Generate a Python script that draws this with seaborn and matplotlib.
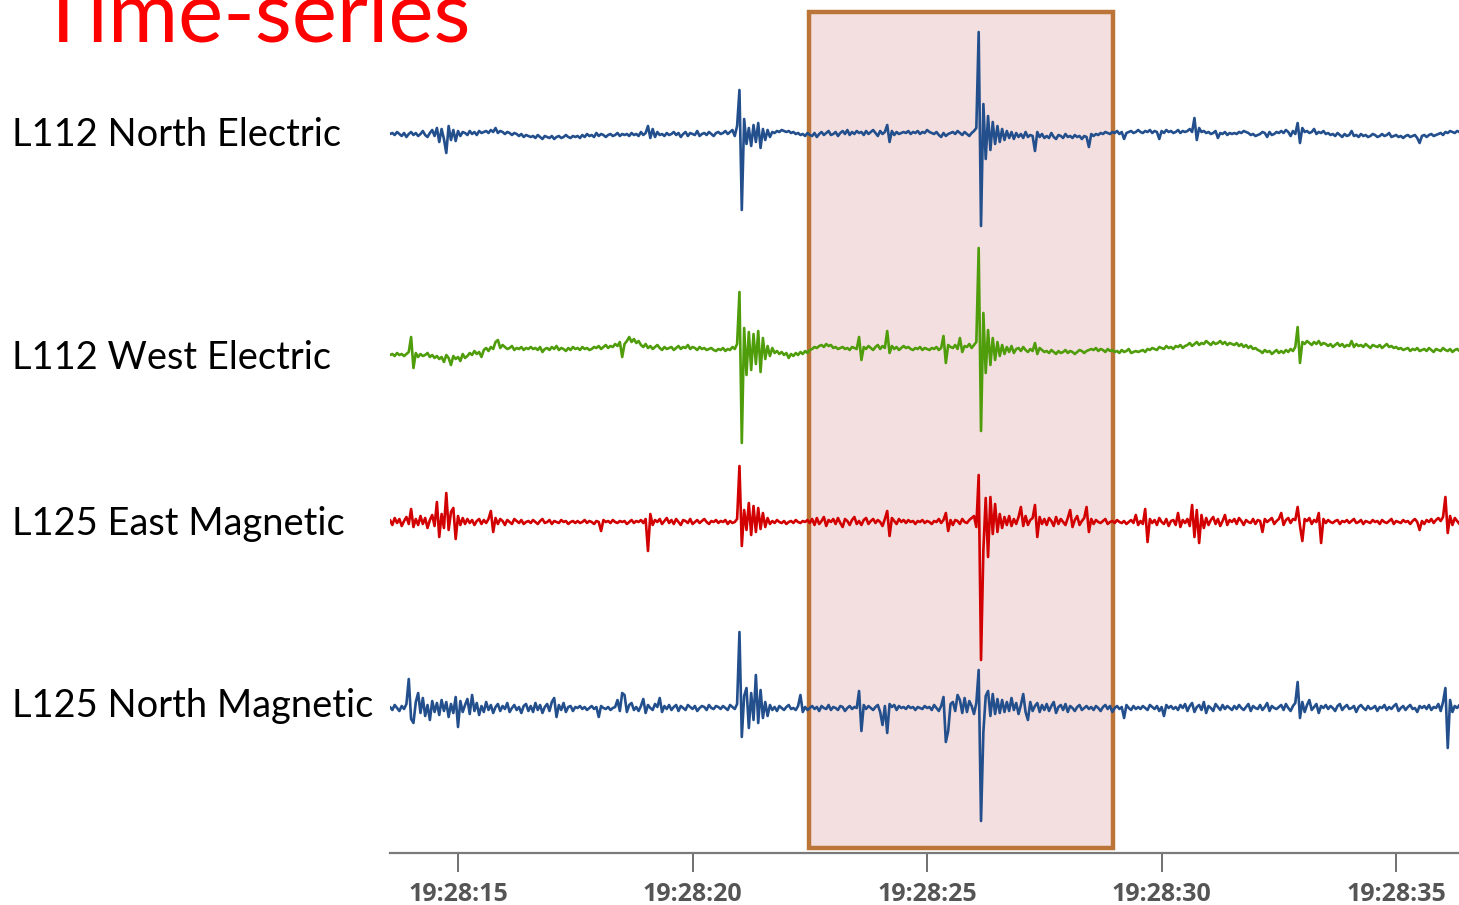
import numpy as np
import matplotlib
matplotlib.use("Agg")
import matplotlib.pyplot as plt
from matplotlib.patches import Rectangle
import seaborn as sns

# Sampling: seconds after 19:28:00, one sample every 50 ms
sample_start = 13.55
sample_step = 0.05

# Channel amplitudes (display units, positive = up)
l112_north_electric = [
    0, 1, -1, 2, 0, -2, 1, -3, 0, 2, -1, 1, -2, 0, 3, -1, -3, 1, 4, -2,
    6, -8, 5, -5, -19, 8, -6, 4, -7, 3, -2, 2, 1, -1, 3, 0, 2, -1, 3, 1,
    2, 3, 1, 4, 2, 6, 1, 3, 2, 0, 2, 1, -1, 1, 0, -2, 0, -3, -1, -2,
    -3, -2, -4, -1, -3, -5, -2, -3, -4, -2, -5, -3, -2, -4, -3, -1, -3, -4, -2, -3,
    -2, -4, -1, -3, 0, -2, -1, -3, 1, -2, 0, -1, -3, -1, 0, -2, -1, 1, -2, 0,
    -1, 0, -2, 1, -1, 0, -2, 2, -1, 1, 8, -4, 5, -3, 2, -1, 0, -2, 1, -1,
    0, 2, -1, 1, -3, 0, 2, -2, 1, 0, -1, 3, -2, 0, 1, -1, 2, 0, -2, 1,
    2, 0, 1, 3, 0, 2, 4, -2, 8, 44, -76, 15, -10, 6, -12, 9, -8, 11, -14, 5,
    -6, 4, -3, 2, 1, 3, 2, 4, 3, 2, 3, 1, 2, 0, 1, -1, 0, -2, 1, -1,
    -2, 1, -3, 0, 2, -1, 1, 3, -1, 0, 2, -2, 1, 3, 0, 4, -1, 2, 0, 3,
    1, 2, -1, 3, 0, 2, 4, 1, -2, 3, 0, 2, 9, -8, 3, -1, 2, 0, 1, 2,
    1, 3, 0, 2, 1, 3, 0, 2, 1, 4, 2, 1, 0, 2, -1, -3, 1, -2, 0, 1,
    2, 0, 3, 1, -1, 2, 0, -2, 1, 3, 6, 102, -92, 30, -25, 18, -16, 12, -10, 8,
    -8, 5, -6, 3, -4, 2, -5, 1, -3, 0, -4, 2, -3, -1, -2, -17, 2, -3, 0, -4,
    -2, -4, 1, -3, -5, -1, -2, -4, 0, -3, -2, -4, -1, -3, -2, -5, -2, -3, -13, 0,
    -2, 0, -1, 1, 0, 2, 1, 0, 2, 1, 3, 0, 2, -5, 1, 2, 3, 1, 2, 4,
    2, 1, 3, 2, 4, 1, 3, 2, -5, 3, 1, 4, 2, 3, 1, 2, 4, 1, 3, 2,
    3, 5, 2, 16, -6, 6, 2, 3, 1, 2, 0, 1, 3, -4, 1, 0, 2, -1, 1, 0,
    1, 0, 2, 1, 3, 2, 1, -1, 0, -2, -1, 0, 2, 1, -3, 2, -1, 0, 2, 1,
    3, 1, 4, 2, -2, 3, 0, 11, -9, 6, 2, 3, 1, 2, 5, 0, 2, 1, 3, 0,
    1, -1, 0, -2, 1, -1, -3, 0, -2, -1, 3, -2, -1, -3, 0, -2, -1, -3, -2, 0,
    -1, -3, -2, 0, -2, -1, 1, -3, -2, -1, -3, -2, -4, -2, -1, -3, -2, -1, -4, -9,
    -2, -1, -3, -1, 0, -2, -1, 0, 1, -1, 2, 1, 3, 2, 1, 3, 2, 1, 2, 3,
]

l112_west_electric = [
    -5, -4, -6, -3, -5, -4, -6, -4, -2, 13, -18, -3, -7, -4, -6, -5, -3, -7, -5, -8,
    -6, -9, -7, -12, -5, -8, -15, -6, -9, -7, -11, -4, -8, -6, -3, -5, -1, -4, -2, -7,
    0, 2, -1, 3, 1, 8, 10, 2, 5, 3, 1, 2, 4, 0, 2, 1, 3, 0, 2, 1,
    3, 1, 2, 0, 3, -2, 1, 2, 0, 3, 1, 4, 0, 2, 1, -1, 2, 0, 3, 1,
    2, 0, 3, 1, 2, 0, 1, 3, 2, 4, 1, 3, 5, 2, 4, 3, 6, 4, 8, -7,
    6, 9, 13, 8, 11, 7, 9, 5, 3, 6, 2, 4, 1, 3, 5, 2, 0, 3, 1, 2,
    3, 0, 2, 4, 1, 3, 2, 5, 1, 3, 2, 0, 3, 1, 2, 0, 1, 2, 0, -1,
    1, 0, 2, -1, 1, 0, 3, 1, 6, 58, -93, 22, -25, 18, -20, 16, -14, 19, -22, 12,
    -9, 4, -6, 2, -3, -1, -4, -2, -5, -3, -8, -4, -6, -3, -5, -2, -4, -1, -3, 0,
    1, 3, 2, 4, 5, 3, 6, 4, 5, 2, 3, 1, 2, 3, 1, 2, 0, 3, 2, 1,
    13, -10, 3, 1, 4, 2, 0, 3, 5, 1, 4, 2, 19, -3, 4, 1, 3, 0, 2, 4,
    2, 3, 1, 0, 2, 1, 3, 0, 2, 1, 0, 2, 1, 3, 0, 2, 14, -13, 5, 3,
    2, 5, 1, 12, -2, 4, 3, 6, 2, 5, 8, 102, -81, 37, -23, 20, -15, 12, -10, 8,
    -6, 5, -4, 3, -2, 4, -3, 1, 2, -1, 3, 0, -2, 1, -1, 7, -4, 2, 0, -2,
    -1, -3, 0, -2, -4, -1, -3, -2, 0, -3, -1, -2, -4, -2, 0, -1, -3, -1, 0, 1,
    0, 2, -1, 1, 0, -2, 1, -1, 0, -2, -1, -3, 0, -2, -1, 1, -3, -2, -1, -2,
    -1, 0, -2, 1, 0, 2, 1, 0, 3, 2, 1, 4, 2, 3, 1, 4, 3, 5, 2, 4,
    5, 7, 4, 6, 8, 5, 7, 6, 9, 7, 5, 8, 6, 7, 9, 6, 8, 5, 7, 6,
    5, 7, 4, 6, 3, 5, 2, 4, 1, 2, 0, -1, -3, 0, -2, -1, -4, -2, 0, -3,
    -1, -3, 0, -2, 1, -1, 3, 23, -13, 8, 6, 9, 7, 5, 8, 6, 9, 5, 7, 6,
    4, 6, 3, 5, 7, 4, 6, 3, 5, 4, 9, 3, 6, 4, 5, 3, 6, 4, 2, 5,
    4, 3, 5, 2, 4, 6, 3, 4, 2, 3, 1, 2, 0, 1, 2, -1, 1, 0, 2, -1,
    0, 1, -1, 2, 0, -2, 1, 0, -1, 2, 0, -1, 1, -2, 0, 1, -1, 0, -2, 0,
]

l125_east_magnetic = [
    2, -3, 4, -1, 3, -4, 1, 5, -2, 13, -5, 3, -3, 6, -2, 4, -6, 2, 7, -4,
    20, -15, 8, -6, 29, -8, 10, 14, -17, 6, -3, 4, -2, 3, -1, 2, -3, 1, 3, -2,
    2, -1, 3, 11, -10, 4, -2, 3, 1, -3, 2, 0, -2, 3, 1, -1, 2, -2, 0, 1,
    -1, 2, 0, -2, 1, 3, -1, 0, 2, -2, 1, 0, -1, 2, 0, 1, -2, 0, 1, -1,
    1, -1, 0, 2, -1, 1, 0, -2, 1, 0, -9, 2, 0, 1, -1, 2, 0, -1, 1, 0,
    1, -2, 0, 2, -1, 1, 0, 2, -1, 3, -29, 8, -3, 2, 0, 3, -2, 1, 4, -1,
    2, -2, 3, 0, -3, 2, 1, -1, 3, -2, 0, 2, -1, 1, 3, 0, -2, 1, 0, 2,
    -1, 1, 0, 2, -2, 1, -1, 0, 3, 56, -24, 12, -8, 19, -13, 16, -10, 14, -7, 9,
    -5, 4, -2, 1, -1, 2, 0, -1, 1, -2, 0, 1, -1, 2, 0, -1, 1, 0, 2, -1,
    3, -3, 4, -2, 1, 5, -4, 2, 0, 3, -2, 4, -1, -5, 3, 1, -3, 2, 5, -2,
    1, -3, 2, 4, -2, 1, 3, -1, 2, 0, -4, 3, 11, -14, 4, 1, -2, 3, 0, 2,
    -1, 2, 0, 1, -2, 1, 0, 2, -1, 1, 0, -2, 1, 0, 3, -1, 2, 9, -9, 2,
    -3, 2, 1, -2, 3, 0, -1, 2, 4, 6, -5, 47, -138, -28, 24, -35, 25, -12, 18, -10,
    8, -6, 5, -3, 6, -4, 3, -2, 5, 15, -4, 6, -3, 2, 4, 17, -15, 5, -2, 3,
    -3, 4, 1, -4, 5, -2, 3, 0, -3, 4, 12, -5, 2, 6, -3, 1, 4, 15, -10, 3,
    -2, 2, 0, -1, 1, 3, -2, 0, 1, -1, 2, 0, -1, 1, -2, 0, 2, -1, 7, -3,
    1, -2, 13, -20, 3, -1, 2, -3, 4, 0, -2, 3, -4, 1, 2, -3, 9, -5, 2, -1,
    3, -4, 17, -15, 12, -21, 7, -6, 4, -3, 2, 5, -2, 3, -4, 1, 7, -3, 2, 0,
    3, -2, 4, 1, -3, 2, 0, -1, 3, -2, 2, 1, -10, 3, 0, 2, 4, -2, 1, 3,
    9, -3, 2, 4, -1, 3, 2, 15, -4, -19, 3, 1, 4, -2, 2, 0, 9, -21, 3, -1,
    2, 0, -1, 1, 2, -2, 1, 0, 2, -1, 1, 3, -1, 0, 2, -2, 1, 0, -1, 2,
    0, 1, -2, 2, 0, -1, 1, 3, -2, 1, 0, -1, 2, 0, 1, -2, 1, 3, 0, -8,
    1, -2, 2, 0, 3, -1, 2, 4, 1, 5, 25, -11, 6, -3, 4, 1, -2, 3, 0, 2,
]

l125_north_magnetic = [
    1, -2, 3, 0, -3, 2, -1, 4, 29, -11, -15, 6, 15, -5, 10, -8, 3, -12, 7, -4,
    5, -7, 8, -3, 6, -9, 4, -5, 11, -19, 7, -4, 3, 9, -6, 13, -3, 5, -7, 2,
    -4, 6, -2, 3, -5, 1, 4, -3, 2, -1, 5, -4, 0, 3, -2, 1, -5, 2, 4, -3,
    2, -4, 5, -2, 3, -5, 1, 4, -3, 6, 10, -9, 3, -2, 5, -4, 1, 2, -3, 1,
    0, 2, -1, 1, -2, 0, 2, -1, 1, -9, 2, 0, -1, 1, -2, 0, 1, 8, -3, 15,
    13, -4, 3, 5, -2, 1, -3, 2, 9, -5, 3, 0, -2, 4, 1, 10, -4, 2, -1, 3,
    -2, 1, 3, -3, 2, 0, -2, 3, 1, -1, 2, -3, 0, 2, 1, -2, 3, 0, -1, 2,
    1, -1, 2, 0, -2, 3, 1, -1, 4, 76, -29, 12, 20, -20, 15, -12, 33, -15, 18, -10,
    6, -8, 3, -2, 1, -3, 2, 0, -2, 1, 3, -1, 0, -2, 2, 13, -4, 1, -2, 0,
    2, -1, 1, -3, 2, 0, -1, 3, -2, 1, 0, -2, 2, 1, -3, 0, 2, -1, 1, 0,
    17, -23, 3, -1, 2, 0, -2, 1, 3, -4, -17, 2, -25, 4, 1, 3, -2, 2, 0, 1,
    -1, 2, 0, 1, -2, 1, 0, -1, 2, 0, 1, -2, 3, 0, -3, 2, 11, -34, -23, 4,
    6, -3, 13, 8, -5, 10, -4, 7, 2, -6, 5, 38, -113, -24, 12, 17, -8, 14, -6, 9,
    -5, 8, -4, 6, -3, 10, -2, 5, -6, 3, 14, -4, -12, 6, -3, 2, 5, -4, 3, -2,
    4, -3, 2, 6, -5, 1, 3, -2, 4, -4, 2, 0, -3, 1, 3, -2, 0, 2, -1, 1,
    -2, 2, 0, -3, 1, 3, -1, 2, -4, 0, 2, -1, 1, -10, 3, 0, -2, 2, -1, 1,
    -1, 2, 0, -2, 3, 1, -1, 2, -3, 1, -8, 3, 0, 2, -1, 1, -2, 3, 0, 4,
    -3, 2, 5, -4, 1, 3, -2, 6, -5, 2, 0, -3, 4, 1, -2, 3, -1, 2, 0, -2,
    2, -1, 3, 0, -2, 1, 4, -3, 2, 0, -1, 3, -2, 1, 5, -3, 2, 0, -1, 1,
    3, -2, 4, 0, -3, 2, 5, 26, -10, 6, -4, 3, 8, -2, 1, 4, -5, 2, 0, 3,
    -1, 2, 0, -3, 2, 4, -2, 1, 3, -1, 0, 2, -4, 1, 3, 0, -2, 2, -1, 0,
    2, -3, 1, 0, 3, -2, 1, -1, 2, 4, -3, 0, 2, -2, 1, 3, -1, 0, -4, 2,
    0, 2, -1, 3, -2, 1, 0, 4, -3, 6, 20, -40, 8, -4, 2, 0, 3, -1, 1, 2,
]

channel_names = ["L112 North Electric", "L112 West Electric",
                 "L125 East Magnetic", "L125 North Magnetic"]
channel_series = [l112_north_electric, l112_west_electric,
                  l125_east_magnetic, l125_north_magnetic]
tick_seconds = [15, 20, 25, 30, 35]
tick_labels = ["19:28:15", "19:28:20", "19:28:25", "19:28:30", "19:28:35"]
event_window = (22.48, 28.96)   # highlighted interval, seconds
view_window = (13.55, 36.34)

# ---- styling / layout ----
W, H = 1459, 905
trace_colors = ["#234f8d", "#4f9d0a", "#d20000", "#234f8d"]
trace_rows = [134, 350, 522, 708]          # vertical row of each trace
label_baselines = [146, 369, 535, 717]
TEXT_FONT = ["Lato", "DejaVu Sans"]
TICK_FONT = ["Open Sans", "DejaVu Sans"]

sns.set_theme(style="white")
plt.rcParams["font.family"] = TEXT_FONT

fig = plt.figure(figsize=(W / 100, H / 100), dpi=100)
fig.patch.set_facecolor("white")
ax_left, ax_bottom_px = 390, 853
ax = fig.add_axes([ax_left / W, (H - ax_bottom_px) / H, 1 - ax_left / W, ax_bottom_px / H])
ax.set_facecolor("none")

ax.add_patch(Rectangle((event_window[0], 12), event_window[1] - event_window[0], 836,
                       facecolor="#f3dfdf", edgecolor="#bb7538", linewidth=3.2,
                       zorder=1))

for values, color, row in zip(channel_series, trace_colors, trace_rows):
    t = sample_start + sample_step * np.arange(len(values))
    y = row - np.asarray(values, dtype=float)
    sns.lineplot(x=t, y=y, ax=ax, color=color, linewidth=1.9,
                 estimator=None, sort=False, zorder=3)

ax.set_xlim(*view_window)
ax.set_ylim(ax_bottom_px, 0)
ax.set_yticks([])
ax.set_xticks(tick_seconds)
ax.set_xticklabels(tick_labels, fontfamily=TICK_FONT,
                   fontweight="bold", fontsize=18, color="#555555")
ax.tick_params(axis="x", direction="out", length=14, width=1.4, color="#707070",
               pad=7, bottom=True)
for side in ["top", "right", "left"]:
    ax.spines[side].set_visible(False)
ax.spines["bottom"].set_color("#7a7a7a")
ax.spines["bottom"].set_linewidth(1.6)
ax.set_xlabel("")
ax.set_ylabel("")

for name, base in zip(channel_names, label_baselines):
    fig.text(12 / W, 1 - base / H, name, fontsize=27.4, color="black",
             ha="left", va="baseline", fontfamily=TEXT_FONT)

fig.text(38 / W, 1 - 42 / H, "Time-series", fontsize=61.5, color="#ff0000",
         ha="left", va="baseline", fontfamily=TEXT_FONT)

fig.savefig("out.png", dpi=100, facecolor="white")
